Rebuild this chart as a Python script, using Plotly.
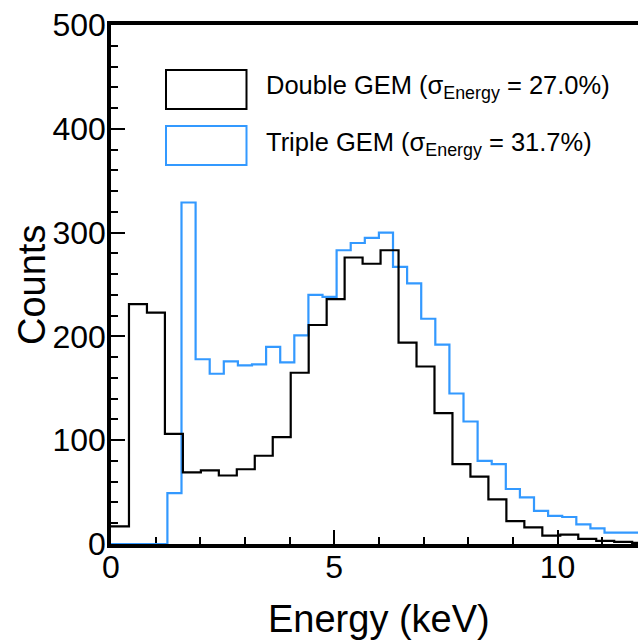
import plotly.graph_objects as go

# ---- data ----
double_bin_width = 0.4025   # keV
triple_bin_width = 0.3158   # keV

double_counts = [17, 231, 223, 106, 69, 71, 66, 72, 85, 103, 165, 211, 236, 276, 270,
                 283, 194, 171, 126, 77, 65, 43, 22, 16, 8, 9, 5, 3, 2, 1]
triple_counts = [0, 0, 0, 0, 49, 329, 178, 164, 176, 172, 173, 190, 175, 201, 240, 238,
                 283, 290, 295, 300, 267, 251, 217, 192, 145, 118, 80, 77, 53, 45, 32,
                 27, 26, 19, 15, 11, 11, 11]

double_label = "Double GEM (σ<sub>Energy</sub> = 27.0%)"
triple_label = "Triple GEM (σ<sub>Energy</sub> = 31.7%)"

x_ticks = [0, 5, 10]
y_ticks = [0, 100, 200, 300, 400, 500]

BLACK = "#000000"
BLUE = "#3399ff"
FONT = "Liberation Sans, Arial, Helvetica, sans-serif"

W, H = 638, 641
ML, MR, MT, MB = 111, 0, 25, 97
PW, PH = W - ML - MR, H - MT - MB
XMAX = PW / 44.65


def edges(n, w):
    return [i * w for i in range(n + 1)]


def px_x(p):
    return (p - ML) / PW


def px_y(p):
    return (H - MB - p) / PH


fig = go.Figure()
fig.add_trace(go.Scatter(
    x=edges(len(triple_counts), triple_bin_width),
    y=triple_counts + [triple_counts[-1]],
    mode="lines", line=dict(color=BLUE, width=2.2, shape="hv"),
    showlegend=False, hoverinfo="skip"))
fig.add_trace(go.Scatter(
    x=edges(len(double_counts), double_bin_width),
    y=double_counts + [double_counts[-1]],
    mode="lines", line=dict(color=BLACK, width=2.2, shape="hv"),
    showlegend=False, hoverinfo="skip"))

# legend boxes (drawn manually, ROOT style)
fig.add_shape(type="rect", xref="paper", yref="paper",
              x0=px_x(166), x1=px_x(246.5), y0=px_y(109), y1=px_y(70),
              line=dict(color=BLACK, width=2), fillcolor="rgba(0,0,0,0)")
fig.add_shape(type="rect", xref="paper", yref="paper",
              x0=px_x(166), x1=px_x(246.5), y0=px_y(165), y1=px_y(126),
              line=dict(color=BLUE, width=2), fillcolor="rgba(0,0,0,0)")
fig.add_annotation(text=double_label, xref="paper", yref="paper",
                   x=px_x(264), y=px_y(87), xanchor="left", yanchor="middle",
                   showarrow=False, font=dict(family=FONT, size=25.5, color=BLACK))
fig.add_annotation(text=triple_label, xref="paper", yref="paper",
                   x=px_x(264), y=px_y(144), xanchor="left", yanchor="middle",
                   showarrow=False, font=dict(family=FONT, size=25.5, color=BLACK))

# axis titles
fig.add_annotation(text="Energy (keV)", xref="paper", yref="paper",
                   x=px_x(379), y=px_y(619), xanchor="center", yanchor="middle",
                   showarrow=False, font=dict(family=FONT, size=38, color=BLACK))
fig.add_annotation(text="Counts", xref="paper", yref="paper", textangle=-90,
                   x=px_x(32), y=px_y(285), xanchor="center", yanchor="middle",
                   showarrow=False, font=dict(family=FONT, size=38, color=BLACK))

fig.update_layout(
    width=W, height=H,
    margin=dict(l=ML, r=MR, t=MT, b=MB, pad=0),
    paper_bgcolor="white", plot_bgcolor="white",
    font=dict(family=FONT, color=BLACK),
    showlegend=False,
    xaxis=dict(
        range=[0, XMAX], tickvals=x_ticks, ticktext=[str(v) for v in x_ticks],
        ticks="inside", ticklen=14, tickwidth=1.5, tickcolor=BLACK,
        minor=dict(dtick=1, ticks="inside", ticklen=7, tickwidth=1.5, tickcolor=BLACK),
        showgrid=False, zeroline=False,
        showline=True, linecolor=BLACK, linewidth=3.5, mirror=True,
        tickfont=dict(family=FONT, size=32, color=BLACK),
        ticklabelstandoff=-8,
        layer="below traces",
    ),
    yaxis=dict(
        range=[0, 500], tickvals=y_ticks, ticktext=[str(v) for v in y_ticks],
        ticks="inside", ticklen=14, tickwidth=1.5, tickcolor=BLACK,
        minor=dict(dtick=20, ticks="inside", ticklen=7, tickwidth=1.5, tickcolor=BLACK),
        showgrid=False, zeroline=False,
        showline=True, linecolor=BLACK, linewidth=3.5, mirror=False,
        tickfont=dict(family=FONT, size=32, color=BLACK),
        ticklabelstandoff=-5,
        layer="below traces",
    ),
)

fig.write_html("out.html")
